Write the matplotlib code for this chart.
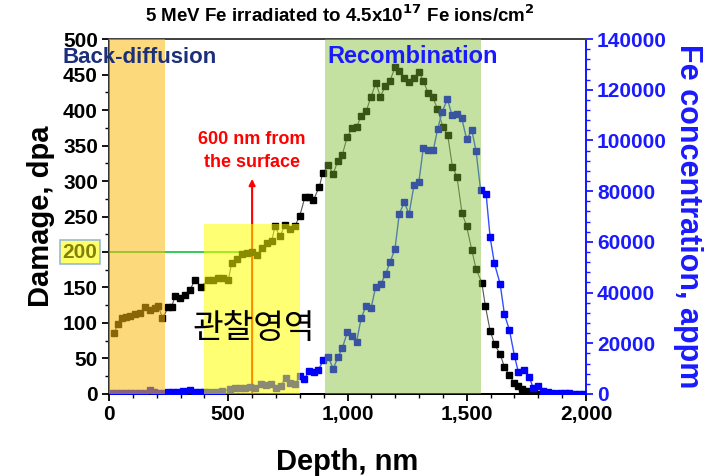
import matplotlib
matplotlib.use("Agg")
import matplotlib.pyplot as plt
import matplotlib.ticker as ticker

plt.rcParams["font.family"] = ["Liberation Sans", "DejaVu Sans"]

# ── data ────────────────────────────────────────────────────────────────────
dmg_depth = [21, 39, 53, 70, 88, 109, 130, 151, 172, 193, 207, 224, 249, 263, 277,
             298, 319, 340, 361, 385, 417, 438, 459, 480, 500, 514, 535, 556, 577,
             598, 619, 640, 661, 682, 696, 717, 738, 759, 780, 800, 822, 838, 857,
             882, 896, 920, 940, 959, 978, 999, 1019, 1038, 1058, 1078, 1099, 1119,
             1138, 1159, 1178, 1199, 1217, 1238, 1258, 1278, 1299, 1318, 1338, 1357,
             1377, 1400, 1420, 1440, 1459, 1480, 1499, 1521, 1539, 1563, 1578, 1598,
             1617, 1640, 1658, 1678, 1698, 1715, 1732, 1750, 1764, 1780, 1800]
dmg_dpa = [86, 99, 107, 109, 110, 112, 114, 122, 118, 121, 124, 107, 122, 123, 138,
           135, 139, 147, 161, 151, 161, 161, 163, 164, 160, 184, 190, 197, 198,
           200, 196, 205, 212, 215, 236, 222, 238, 233, 237, 251, 278, 278, 273,
           292, 311, 322, 310, 328, 337, 362, 375, 376, 392, 398, 419, 438,
           419, 434, 441, 460, 455, 445, 439, 445, 454, 441, 424, 418,
           402, 376, 365, 320, 306, 255, 237, 203, 176, 157, 124, 89,
           70, 56, 38, 27, 16, 11, 7, 4, 2, 1, 0.5]

fe_depth = [10, 30, 50, 70, 90, 110, 130, 150, 170, 190, 210, 230, 249, 270, 290,
            310, 340, 360, 380, 400, 417, 445, 473, 507, 528, 549, 570, 591, 612,
            636, 657, 678, 700, 721, 741, 759, 780, 801, 819, 839, 860, 878, 899,
            920, 940, 960, 978, 999, 1020, 1038, 1057, 1078, 1099, 1118, 1139, 1160,
            1178, 1199, 1217, 1238, 1258, 1279, 1299, 1318, 1339, 1360, 1378, 1397,
            1419, 1438, 1458, 1479, 1500, 1521, 1539, 1558, 1581, 1598, 1616, 1640,
            1658, 1679, 1700, 1716, 1738, 1762, 1779, 1800, 1821, 1842, 1863, 1890,
            1910, 1930, 1950, 1970, 1990]
fe_appm = [200, 250, 200, 300, 250, 300, 400, 500, 1600, 900, 300, 200, 670, 900, 900,
           1000, 1600, 900, 700, 800, 900, 900, 1100, 1800, 2200, 2200, 2500, 2900, 2200,
           3800, 3500, 3800, 2200, 3300, 6400, 4200, 3800, 7200, 5800, 9100, 8800, 9500, 13400,
           14500, 9900, 14500, 18000, 24300, 22900, 20600, 29800, 34800, 33800, 42300, 43300, 47300,
           51900, 57200, 71000, 75600, 71000, 82400, 83600, 97100, 96100, 96300, 104500, 111300,
           116300, 110000, 110300, 108700, 100400, 104100, 95800, 80500, 79000, 61800, 51500, 43400,
           31400, 25200, 15000, 8800, 9500, 6800, 2200, 3300, 1300, 700, 500, 300,
           250, 200, 150, 100, 80]

dpa_ticks = list(range(0, 501, 50))
fe_ticks = list(range(0, 140001, 20000))
depth_ticks = [0, 500, 1000, 1500, 2000]

BLUE = "#1a1aff"
TICK_FS = 15
LABEL_FS = 21

fig = plt.figure(figsize=(7.11, 4.76), dpi=100)
ax = fig.add_axes([0.1533, 0.1723, 0.6709, 0.7457])
ax2 = ax.twinx()

# damage profile (left axis)
ax.plot(dmg_depth, dmg_dpa, color="#555555", lw=0.8, marker="s", ms=4.5,
        mfc="black", mec="black", zorder=3)
# Fe concentration (right axis)
ax2.plot(fe_depth, fe_appm, color="#3050ff", lw=1.0, marker="s", ms=4.5,
         mfc="#0000ff", mec="#0000ff", zorder=3)

# guide lines drawn under the shaded regions
ax.plot([0, 600], [200, 200], color="#33cc55", lw=1.4, zorder=2)
ax.annotate("", xy=(600, 303), xytext=(600, 0),
            arrowprops=dict(arrowstyle="-|>", color="red", lw=1.5,
                            mutation_scale=9, shrinkA=0, shrinkB=0),
            zorder=2)

# translucent shaded regions on top of the data
ax2.axvspan(0, 235, color="#fbba0d", alpha=0.55, lw=0, zorder=5)
ax2.axvspan(400, 800, ymin=0, ymax=240 / 500, color="#ffff00", alpha=0.55, lw=0, zorder=5)
ax2.axvspan(905, 1558, color="#80be32", alpha=0.45, lw=0, zorder=5)

# annotations
ax2.text(-0.097, 0.948, "Back-diffusion", transform=ax.transAxes, fontsize=16,
         fontweight="bold", color="#1c2f7a", ha="left", va="center", zorder=10)
ax2.text(0.458, 0.95, "Recombination", transform=ax.transAxes, fontsize=17,
         fontweight="bold", color=BLUE, ha="left", va="center", zorder=10)
ax2.text(600, 342 / 500 * 140000, "600 nm from\nthe surface", fontsize=13,
         fontweight="bold", color="red", ha="center", va="center",
         linespacing=1.45, zorder=10)
ax2.text(0.176, 0.185, "관찰영역", transform=ax.transAxes, fontsize=24,
         family=["Noto Sans CJK KR", "DejaVu Sans"], color="black",
         ha="left", va="center", zorder=10)

fig.text(0.478, 0.968,
         r"5 MeV Fe irradiated to 4.5x10$^{\mathbf{17}}$ Fe ions/cm$^{\mathbf{2}}$",
         fontsize=13.5, fontweight="bold", ha="center", va="center")

# left axis
ax.set_xlim(0, 2000)
ax.set_ylim(0, 500)
ax.set_yticks(dpa_ticks, labels=["" if t == 200 else str(t) for t in dpa_ticks])
ax.yaxis.set_minor_locator(ticker.MultipleLocator(25))
ax.text(-0.025, 200, "200", transform=ax.get_yaxis_transform(), fontsize=TICK_FS,
        fontweight="bold", color="#80800a", ha="right", va="center",
        bbox=dict(boxstyle="square,pad=0.12", fc="#ffff66", ec="#9ab8d8", lw=1.2))
ax.set_xticks(depth_ticks)
ax.xaxis.set_major_formatter(ticker.FuncFormatter(lambda v, p: f"{v:,.0f}"))
ax.xaxis.set_minor_locator(ticker.MultipleLocator(100))
ax.tick_params(axis="both", which="major", direction="out", length=5, width=1.3,
               labelsize=TICK_FS, pad=3)
ax.tick_params(axis="both", which="minor", direction="out", length=3, width=1.0)
for lbl in ax.get_xticklabels() + ax.get_yticklabels():
    lbl.set_fontweight("bold")
ax.set_ylabel("Damage, dpa", fontsize=LABEL_FS, fontweight="bold", labelpad=6)
ax.set_xlabel("Depth, nm", fontsize=LABEL_FS, fontweight="bold", labelpad=17)

# right axis
ax2.set_ylim(0, 140000)
ax2.set_yticks(fe_ticks)
ax2.yaxis.set_minor_locator(ticker.MultipleLocator(4000))
ax2.tick_params(axis="y", which="major", direction="out", length=5, width=1.3,
                labelsize=TICK_FS, colors=BLUE, pad=3)
ax2.tick_params(axis="y", which="minor", direction="out", length=3, width=1.0,
                colors=BLUE)
for lbl in ax2.get_yticklabels():
    lbl.set_fontweight("bold")
ax2.set_ylabel("Fe concentration, appm", fontsize=LABEL_FS + 1, fontweight="bold",
               color=BLUE, rotation=270, va="bottom", labelpad=4)

for a in (ax, ax2):
    a.spines["top"].set_color("#444444")
    a.spines["left"].set_color("#333333")
    a.spines["bottom"].set_color("black")
    a.spines["right"].set_color(BLUE)
    for s in a.spines.values():
        s.set_linewidth(1.4)

fig.savefig("out.png", dpi=100)
